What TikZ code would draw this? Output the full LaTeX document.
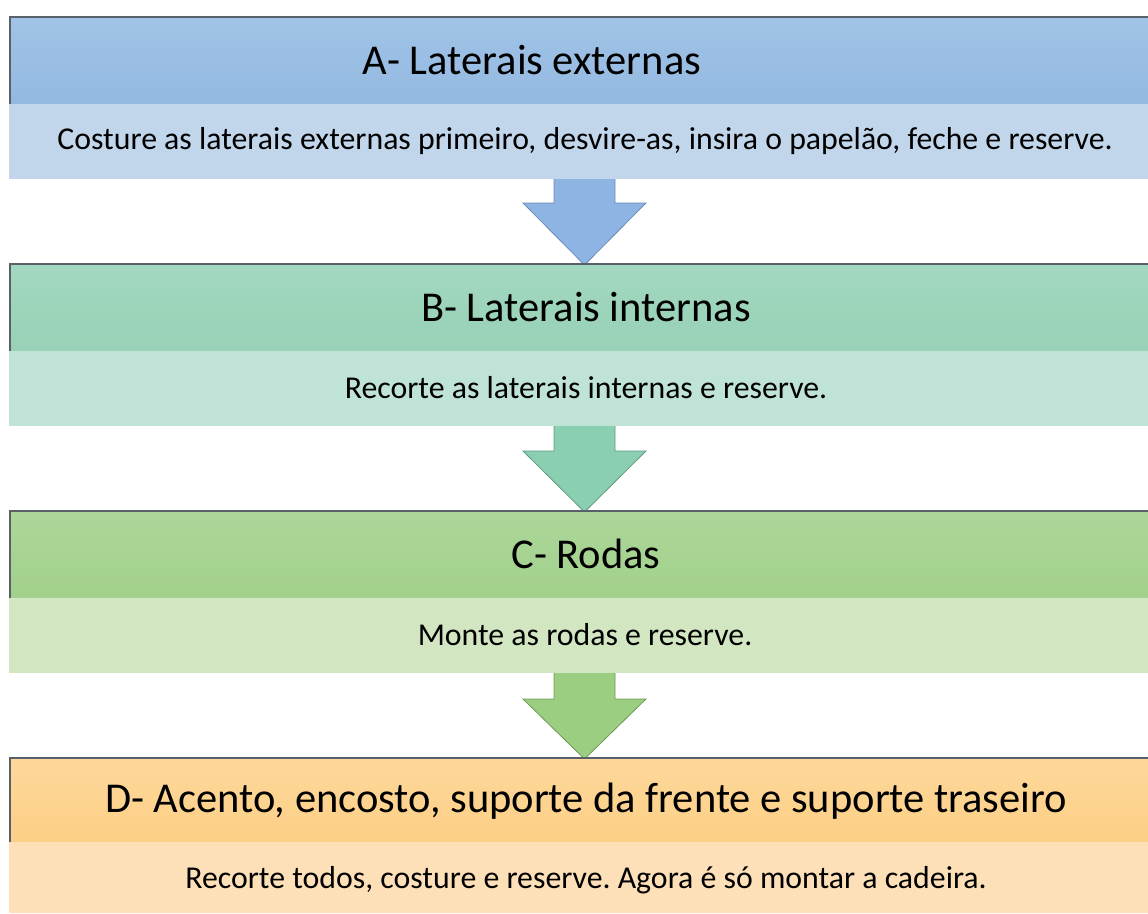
\documentclass[tikz,border=0pt]{standalone}
\usepackage{fontspec}
\setmainfont{Carlito}
\frenchspacing
\definecolor{hAt}{HTML}{A0C3E6}\definecolor{hAb}{HTML}{94B9E1}\definecolor{bA}{HTML}{C1D5EB}
\definecolor{arA}{HTML}{8DB4E2}\definecolor{arAd}{HTML}{6A8CB8}
\definecolor{hBt}{HTML}{A2D8C0}\definecolor{hBb}{HTML}{97D1B6}\definecolor{bB}{HTML}{C0E3D8}
\definecolor{arB}{HTML}{8ACFB2}\definecolor{arBd}{HTML}{5E9A80}
\definecolor{hCt}{HTML}{ABD699}\definecolor{hCb}{HTML}{A2D18B}\definecolor{bC}{HTML}{D2E6C2}
\definecolor{arC}{HTML}{9BCE80}\definecolor{arCd}{HTML}{6B9A58}
\definecolor{hDt}{HTML}{FED89A}\definecolor{hDb}{HTML}{FCCF86}\definecolor{bD}{HTML}{FDDFB8}
\definecolor{edge}{HTML}{5A6068}
\tikzset{
  headtext/.style={font=\fontsize{42.5}{48}\selectfont, text=black, inner sep=0pt},
  bodytext/.style={font=\fontsize{31.8}{36}\selectfont, text=black, inner sep=0pt},
  arrowshape/.style={line width=0.8pt, line join=miter}
}
\begin{document}
\begin{tikzpicture}[x=1pt,y=-1pt]
\useasboundingbox (0,0) rectangle (1148,913);
% ---------- A ----------
\shade[top color=hAt, bottom color=hAb] (10,17) rectangle (1148,104);
\fill[bA] (9,104) rectangle (1148,179);
\draw[edge, line width=1.2pt] (10,104) -- (10,17) -- (1148,17);
\node[headtext] (hA) at (532,60) {A- Laterais externas};
\node[bodytext] (bA) at (585,141) {Costure as laterais externas primeiro, desvire-as, insira o papelão, feche e reserve.};
% arrow A
\filldraw[arrowshape, fill=arA, draw=arAd] (554,179) -- (554,203) -- (523,203) -- (584.5,265) -- (646,203) -- (615,203) -- (615,179);
% ---------- B ----------
\shade[top color=hBt, bottom color=hBb] (10,264) rectangle (1148,351);
\fill[bB] (9,351) rectangle (1148,426);
\draw[edge, line width=1.2pt] (10,351) -- (10,264) -- (1148,264);
\node[headtext] (hB) at (586,307) {B- Laterais internas};
\node[bodytext] (bB) at (586,388) {Recorte as laterais internas e reserve.};
% arrow B
\filldraw[arrowshape, fill=arB, draw=arBd] (554,426) -- (554,451) -- (523,451) -- (584.5,512) -- (646,451) -- (615,451) -- (615,426);
% ---------- C ----------
\shade[top color=hCt, bottom color=hCb] (10,511) rectangle (1148,598);
\fill[bC] (9,598) rectangle (1148,673);
\draw[edge, line width=1.2pt] (10,598) -- (10,511) -- (1148,511);
\node[headtext] (hC) at (586,554) {C- Rodas};
\node[bodytext] (bC) at (585,635) {Monte as rodas e reserve.};
% arrow C
\filldraw[arrowshape, fill=arC, draw=arCd] (554,673) -- (554,699) -- (523,699) -- (584.5,759) -- (646,699) -- (615,699) -- (615,673);
% ---------- D ----------
\shade[top color=hDt, bottom color=hDb] (10,758) rectangle (1148,842);
\fill[bD] (9,842) rectangle (1148,913);
\draw[edge, line width=1.2pt] (10,842) -- (10,758) -- (1148,758);
\node[headtext] (hD) at (586,801) {D- Acento, encosto, suporte da frente e suporte traseiro};
\node[bodytext] (bD) at (586,880) {Recorte todos, costure e reserve. Agora é só montar a cadeira.};
\end{tikzpicture}
\end{document}
